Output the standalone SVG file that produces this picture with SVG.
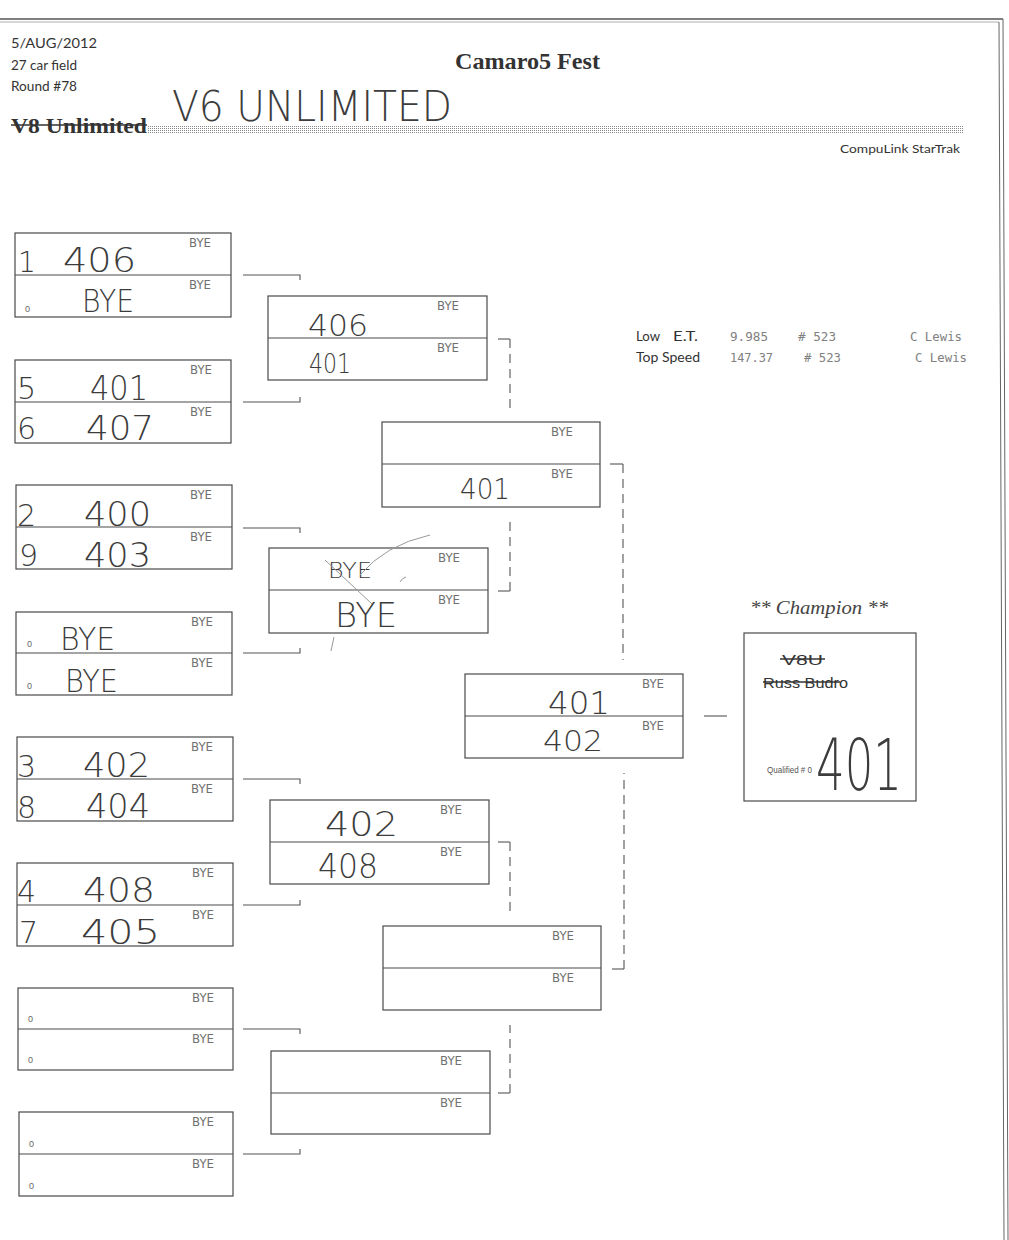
<svg xmlns="http://www.w3.org/2000/svg" width="1009" height="1240" viewBox="0 0 1009 1240">
<defs>
<pattern id="dots" width="2" height="2" patternUnits="userSpaceOnUse">
<rect x="0" y="0" width="1" height="1" fill="#8a8a8a"/>
</pattern>
<style>
.box{fill:none;stroke:#4a4a4a;stroke-width:1.2}
.div{stroke:#4a4a4a;stroke-width:1.2}
.bye{font-family:"DejaVu Sans",sans-serif;font-size:13px;fill:#707070}
.zero{font-family:"Liberation Sans",sans-serif;font-size:9px;fill:#666}
.hw{font-family:"DejaVu Sans","Liberation Sans",sans-serif;font-weight:200;fill:#3c3c3c}
.conn{fill:none;stroke:#555;stroke-width:1.1}
.dash{fill:none;stroke:#555;stroke-width:1.1;stroke-dasharray:9 6}
.hdr{font-family:"Lato","Open Sans",sans-serif;fill:#333}
.mono{font-family:"DejaVu Sans Mono","Liberation Mono",monospace;font-size:12px;fill:#808080}
.strike{stroke:#333;stroke-width:1.4}
</style>
</defs>
<rect x="0" y="0" width="1009" height="1240" fill="#ffffff"/>

<g id="page-frame">
<line x1="0" y1="19" x2="1003" y2="19" stroke="#555" stroke-width="1.5"/>
<line x1="0" y1="22" x2="999" y2="22" stroke="#999" stroke-width="0.8"/>
<line x1="999" y1="22" x2="1004" y2="1240" stroke="#666" stroke-width="1"/>
<line x1="1003" y1="19" x2="1008" y2="1240" stroke="#666" stroke-width="1"/>
</g>

<g id="header">
<text class="hdr" x="11" y="48" font-size="14" textLength="86" lengthAdjust="spacingAndGlyphs">5/AUG/2012</text>
<text class="hdr" x="11" y="70" font-size="13" textLength="66" lengthAdjust="spacingAndGlyphs">27 car field</text>
<text class="hdr" x="11" y="91" font-size="13" textLength="66" lengthAdjust="spacingAndGlyphs">Round #78</text>
<text x="455" y="69" font-family="Liberation Serif,serif" font-weight="bold" font-size="24" fill="#333" textLength="145" lengthAdjust="spacingAndGlyphs">Camaro5 Fest</text>
<text x="11" y="133" font-family="Liberation Serif,serif" font-weight="bold" font-size="21" fill="#333" textLength="136" lengthAdjust="spacingAndGlyphs">V8 Unlimited</text>
<line class="strike" x1="11" y1="125" x2="147" y2="125"/>
<rect x="148" y="125" width="815" height="8" fill="url(#dots)"/>
<text class="hw" x="172" y="121" font-size="42" textLength="280" lengthAdjust="spacingAndGlyphs">V6 UNLIMITED</text>
<text class="hdr" x="840" y="153" font-size="12" textLength="120" lengthAdjust="spacingAndGlyphs">CompuLink StarTrak</text>
</g>

<g id="stats">
<text class="hdr" x="636" y="341" font-size="13" textLength="24" lengthAdjust="spacingAndGlyphs">Low</text>
<text class="hdr" x="673" y="341" font-size="13" textLength="25" lengthAdjust="spacingAndGlyphs">E.T.</text>
<text class="hdr" x="636" y="362" font-size="13" textLength="64" lengthAdjust="spacingAndGlyphs">Top Speed</text>
<text class="mono" x="730" y="341" textLength="38" lengthAdjust="spacingAndGlyphs">9.985</text>
<text class="mono" x="798" y="341" textLength="38" lengthAdjust="spacingAndGlyphs"># 523</text>
<text class="mono" x="910" y="341" textLength="52" lengthAdjust="spacingAndGlyphs">C Lewis</text>
<text class="mono" x="730" y="362" textLength="43" lengthAdjust="spacingAndGlyphs">147.37</text>
<text class="mono" x="804" y="362" textLength="37" lengthAdjust="spacingAndGlyphs"># 523</text>
<text class="mono" x="915" y="362" textLength="52" lengthAdjust="spacingAndGlyphs">C Lewis</text>
</g>

<!-- Round 1 -->
<g id="r1-box1">
<rect class="box" x="15" y="233" width="216" height="84"/>
<line class="div" x1="15" y1="275" x2="231" y2="275"/>
<text class="bye" x="189" y="247" textLength="22" lengthAdjust="spacingAndGlyphs">BYE</text>
<text class="bye" x="189" y="289" textLength="22" lengthAdjust="spacingAndGlyphs">BYE</text>
<text class="zero" x="25" y="312">0</text>
<text class="hw" x="18" y="272" font-size="28">1</text>
<text class="hw" x="63" y="272" font-size="33" textLength="73" lengthAdjust="spacingAndGlyphs">406</text>
<text class="hw" x="82" y="312" font-size="32" textLength="52" lengthAdjust="spacingAndGlyphs">BYE</text>
</g>
<g id="r1-box2">
<rect class="box" x="15" y="360" width="216" height="83"/>
<line class="div" x1="15" y1="402" x2="231" y2="402"/>
<text class="bye" x="190" y="374" textLength="22" lengthAdjust="spacingAndGlyphs">BYE</text>
<text class="bye" x="190" y="416" textLength="22" lengthAdjust="spacingAndGlyphs">BYE</text>
<text class="hw" x="17" y="399" font-size="30">5</text>
<text class="hw" x="90" y="400" font-size="33" textLength="58" lengthAdjust="spacingAndGlyphs">401</text>
<text class="hw" x="17" y="439" font-size="30">6</text>
<text class="hw" x="86" y="440" font-size="33" textLength="68" lengthAdjust="spacingAndGlyphs">407</text>
</g>
<g id="r1-box3">
<rect class="box" x="16" y="485" width="216" height="84"/>
<line class="div" x1="16" y1="527" x2="232" y2="527"/>
<text class="bye" x="190" y="499" textLength="22" lengthAdjust="spacingAndGlyphs">BYE</text>
<text class="bye" x="190" y="541" textLength="22" lengthAdjust="spacingAndGlyphs">BYE</text>
<text class="hw" x="17" y="526" font-size="30">2</text>
<text class="hw" x="84" y="526" font-size="33" textLength="67" lengthAdjust="spacingAndGlyphs">400</text>
<text class="hw" x="19" y="566" font-size="30">9</text>
<text class="hw" x="84" y="567" font-size="33" textLength="67" lengthAdjust="spacingAndGlyphs">403</text>
</g>
<g id="r1-box4">
<rect class="box" x="16" y="612" width="216" height="83"/>
<line class="div" x1="16" y1="653" x2="232" y2="653"/>
<text class="bye" x="191" y="626" textLength="22" lengthAdjust="spacingAndGlyphs">BYE</text>
<text class="bye" x="191" y="667" textLength="22" lengthAdjust="spacingAndGlyphs">BYE</text>
<text class="zero" x="27" y="647">0</text>
<text class="zero" x="27" y="689">0</text>
<text class="hw" x="60" y="650" font-size="32" textLength="55" lengthAdjust="spacingAndGlyphs">BYE</text>
<text class="hw" x="65" y="692" font-size="32" textLength="53" lengthAdjust="spacingAndGlyphs">BYE</text>
</g>
<g id="r1-box5">
<rect class="box" x="17" y="737" width="216" height="84"/>
<line class="div" x1="17" y1="779" x2="233" y2="779"/>
<text class="bye" x="191" y="751" textLength="22" lengthAdjust="spacingAndGlyphs">BYE</text>
<text class="bye" x="191" y="793" textLength="22" lengthAdjust="spacingAndGlyphs">BYE</text>
<text class="hw" x="17" y="777" font-size="30">3</text>
<text class="hw" x="83" y="777" font-size="33" textLength="67" lengthAdjust="spacingAndGlyphs">402</text>
<text class="hw" x="17" y="818" font-size="30">8</text>
<text class="hw" x="86" y="818" font-size="33" textLength="64" lengthAdjust="spacingAndGlyphs">404</text>
</g>
<g id="r1-box6">
<rect class="box" x="17" y="863" width="216" height="83"/>
<line class="div" x1="17" y1="905" x2="233" y2="905"/>
<text class="bye" x="192" y="877" textLength="22" lengthAdjust="spacingAndGlyphs">BYE</text>
<text class="bye" x="192" y="919" textLength="22" lengthAdjust="spacingAndGlyphs">BYE</text>
<text class="hw" x="17" y="902" font-size="30">4</text>
<text class="hw" x="83" y="902" font-size="33" textLength="72" lengthAdjust="spacingAndGlyphs">408</text>
<text class="hw" x="19" y="943" font-size="30">7</text>
<text class="hw" x="81" y="944" font-size="33" textLength="79" lengthAdjust="spacingAndGlyphs">405</text>
</g>
<g id="r1-box7">
<rect class="box" x="18" y="988" width="215" height="82"/>
<line class="div" x1="18" y1="1029" x2="233" y2="1029"/>
<text class="bye" x="192" y="1002" textLength="22" lengthAdjust="spacingAndGlyphs">BYE</text>
<text class="bye" x="192" y="1043" textLength="22" lengthAdjust="spacingAndGlyphs">BYE</text>
<text class="zero" x="28" y="1022">0</text>
<text class="zero" x="28" y="1063">0</text>
</g>
<g id="r1-box8">
<rect class="box" x="19" y="1112" width="214" height="84"/>
<line class="div" x1="19" y1="1154" x2="233" y2="1154"/>
<text class="bye" x="192" y="1126" textLength="22" lengthAdjust="spacingAndGlyphs">BYE</text>
<text class="bye" x="192" y="1168" textLength="22" lengthAdjust="spacingAndGlyphs">BYE</text>
<text class="zero" x="29" y="1147">0</text>
<text class="zero" x="29" y="1189">0</text>
</g>

<!-- Round 2 -->
<g id="r2-boxA">
<rect class="box" x="268" y="296" width="219" height="84"/>
<line class="div" x1="268" y1="338" x2="487" y2="338"/>
<text class="bye" x="437" y="310" textLength="22" lengthAdjust="spacingAndGlyphs">BYE</text>
<text class="bye" x="437" y="352" textLength="22" lengthAdjust="spacingAndGlyphs">BYE</text>
<text class="hw" x="308" y="336" font-size="30" textLength="60" lengthAdjust="spacingAndGlyphs">406</text>
<text class="hw" x="309" y="373" font-size="27" textLength="42" lengthAdjust="spacingAndGlyphs">401</text>
</g>
<g id="r2-boxB">
<rect class="box" x="269" y="548" width="219" height="85"/>
<line class="div" x1="269" y1="590" x2="488" y2="590"/>
<text class="bye" x="438" y="562" textLength="22" lengthAdjust="spacingAndGlyphs">BYE</text>
<text class="bye" x="438" y="604" textLength="22" lengthAdjust="spacingAndGlyphs">BYE</text>
<text class="hw" x="328" y="578" font-size="22" textLength="44" lengthAdjust="spacingAndGlyphs" fill="#666">BYE</text>
<path d="M325 560 L372 604 M360 575 Q385 545 430 535 M400 582 Q402 578 406 577 M334 637 L331 651" fill="none" stroke="#999" stroke-width="1"/>
<text class="hw" x="335" y="627" font-size="34" textLength="62" lengthAdjust="spacingAndGlyphs">BYE</text>
</g>
<g id="r2-boxC">
<rect class="box" x="270" y="800" width="219" height="84"/>
<line class="div" x1="270" y1="842" x2="489" y2="842"/>
<text class="bye" x="440" y="814" textLength="22" lengthAdjust="spacingAndGlyphs">BYE</text>
<text class="bye" x="440" y="856" textLength="22" lengthAdjust="spacingAndGlyphs">BYE</text>
<text class="hw" x="325" y="836" font-size="33" textLength="73" lengthAdjust="spacingAndGlyphs">402</text>
<text class="hw" x="318" y="878" font-size="33" textLength="60" lengthAdjust="spacingAndGlyphs">408</text>
</g>
<g id="r2-boxD">
<rect class="box" x="271" y="1051" width="219" height="83"/>
<line class="div" x1="271" y1="1093" x2="490" y2="1093"/>
<text class="bye" x="440" y="1065" textLength="22" lengthAdjust="spacingAndGlyphs">BYE</text>
<text class="bye" x="440" y="1107" textLength="22" lengthAdjust="spacingAndGlyphs">BYE</text>
</g>

<!-- Round 3 -->
<g id="r3-boxE">
<rect class="box" x="382" y="422" width="218" height="85"/>
<line class="div" x1="382" y1="464" x2="600" y2="464"/>
<text class="bye" x="551" y="436" textLength="22" lengthAdjust="spacingAndGlyphs">BYE</text>
<text class="bye" x="551" y="478" textLength="22" lengthAdjust="spacingAndGlyphs">BYE</text>
<text class="hw" x="460" y="499" font-size="28" textLength="50" lengthAdjust="spacingAndGlyphs">401</text>
</g>
<g id="r3-boxF">
<rect class="box" x="383" y="926" width="218" height="84"/>
<line class="div" x1="383" y1="968" x2="601" y2="968"/>
<text class="bye" x="552" y="940" textLength="22" lengthAdjust="spacingAndGlyphs">BYE</text>
<text class="bye" x="552" y="982" textLength="22" lengthAdjust="spacingAndGlyphs">BYE</text>
</g>

<!-- Final -->
<g id="final-box">
<rect class="box" x="465" y="674" width="218" height="84"/>
<line class="div" x1="465" y1="716" x2="683" y2="716"/>
<text class="bye" x="642" y="688" textLength="22" lengthAdjust="spacingAndGlyphs">BYE</text>
<text class="bye" x="642" y="730" textLength="22" lengthAdjust="spacingAndGlyphs">BYE</text>
<text class="hw" x="548" y="714" font-size="32" textLength="62" lengthAdjust="spacingAndGlyphs">401</text>
<text class="hw" x="543" y="751" font-size="28" textLength="60" lengthAdjust="spacingAndGlyphs">402</text>
</g>

<!-- Champion -->
<g id="champion">
<text x="750" y="614" font-family="Liberation Serif,serif" font-style="italic" font-size="19" fill="#444" textLength="138" lengthAdjust="spacingAndGlyphs">** Champion **</text>
<rect class="box" x="744" y="633" width="172" height="168"/>
<text x="782" y="665" font-family="Liberation Sans,sans-serif" font-size="14" fill="#333" textLength="41" lengthAdjust="spacingAndGlyphs">V8U</text>
<line class="strike" x1="780" y1="659" x2="825" y2="659"/>
<text x="763" y="688" font-family="Liberation Sans,sans-serif" font-size="14" fill="#333" textLength="85" lengthAdjust="spacingAndGlyphs">Russ Budro</text>
<line class="strike" x1="763" y1="682" x2="840" y2="682"/>
<text x="767" y="773" font-family="Liberation Sans,sans-serif" font-size="9" fill="#555" textLength="45" lengthAdjust="spacingAndGlyphs">Qualified # 0</text>
<text class="hw" x="816" y="790" font-size="72" textLength="86" lengthAdjust="spacingAndGlyphs">401</text>
</g>

<g id="connectors">
<path class="conn" d="M243 275 H300 V280"/>
<path class="conn" d="M243 402 H300 V397"/>
<path class="conn" d="M243 528 H300 V533"/>
<path class="conn" d="M243 653 H300 V648"/>
<path class="conn" d="M243 779 H300 V784"/>
<path class="conn" d="M243 905 H300 V900"/>
<path class="conn" d="M243 1029 H300 V1034"/>
<path class="conn" d="M243 1154 H300 V1149"/>
<path class="conn" d="M498 339 H510"/>
<path class="dash" d="M510 339 V408"/>
<path class="conn" d="M498 591 H510"/>
<path class="dash" d="M510 591 V520"/>
<path class="conn" d="M498 842 H510"/>
<path class="dash" d="M510 842 V912"/>
<path class="conn" d="M498 1093 H510"/>
<path class="dash" d="M510 1093 V1025"/>
<path class="conn" d="M610 464 H623"/>
<path class="dash" d="M623 464 V660"/>
<path class="conn" d="M612 969 H624"/>
<path class="dash" d="M624 969 V773"/>
<path class="conn" d="M704 716 H727"/>
</g>
</svg>
